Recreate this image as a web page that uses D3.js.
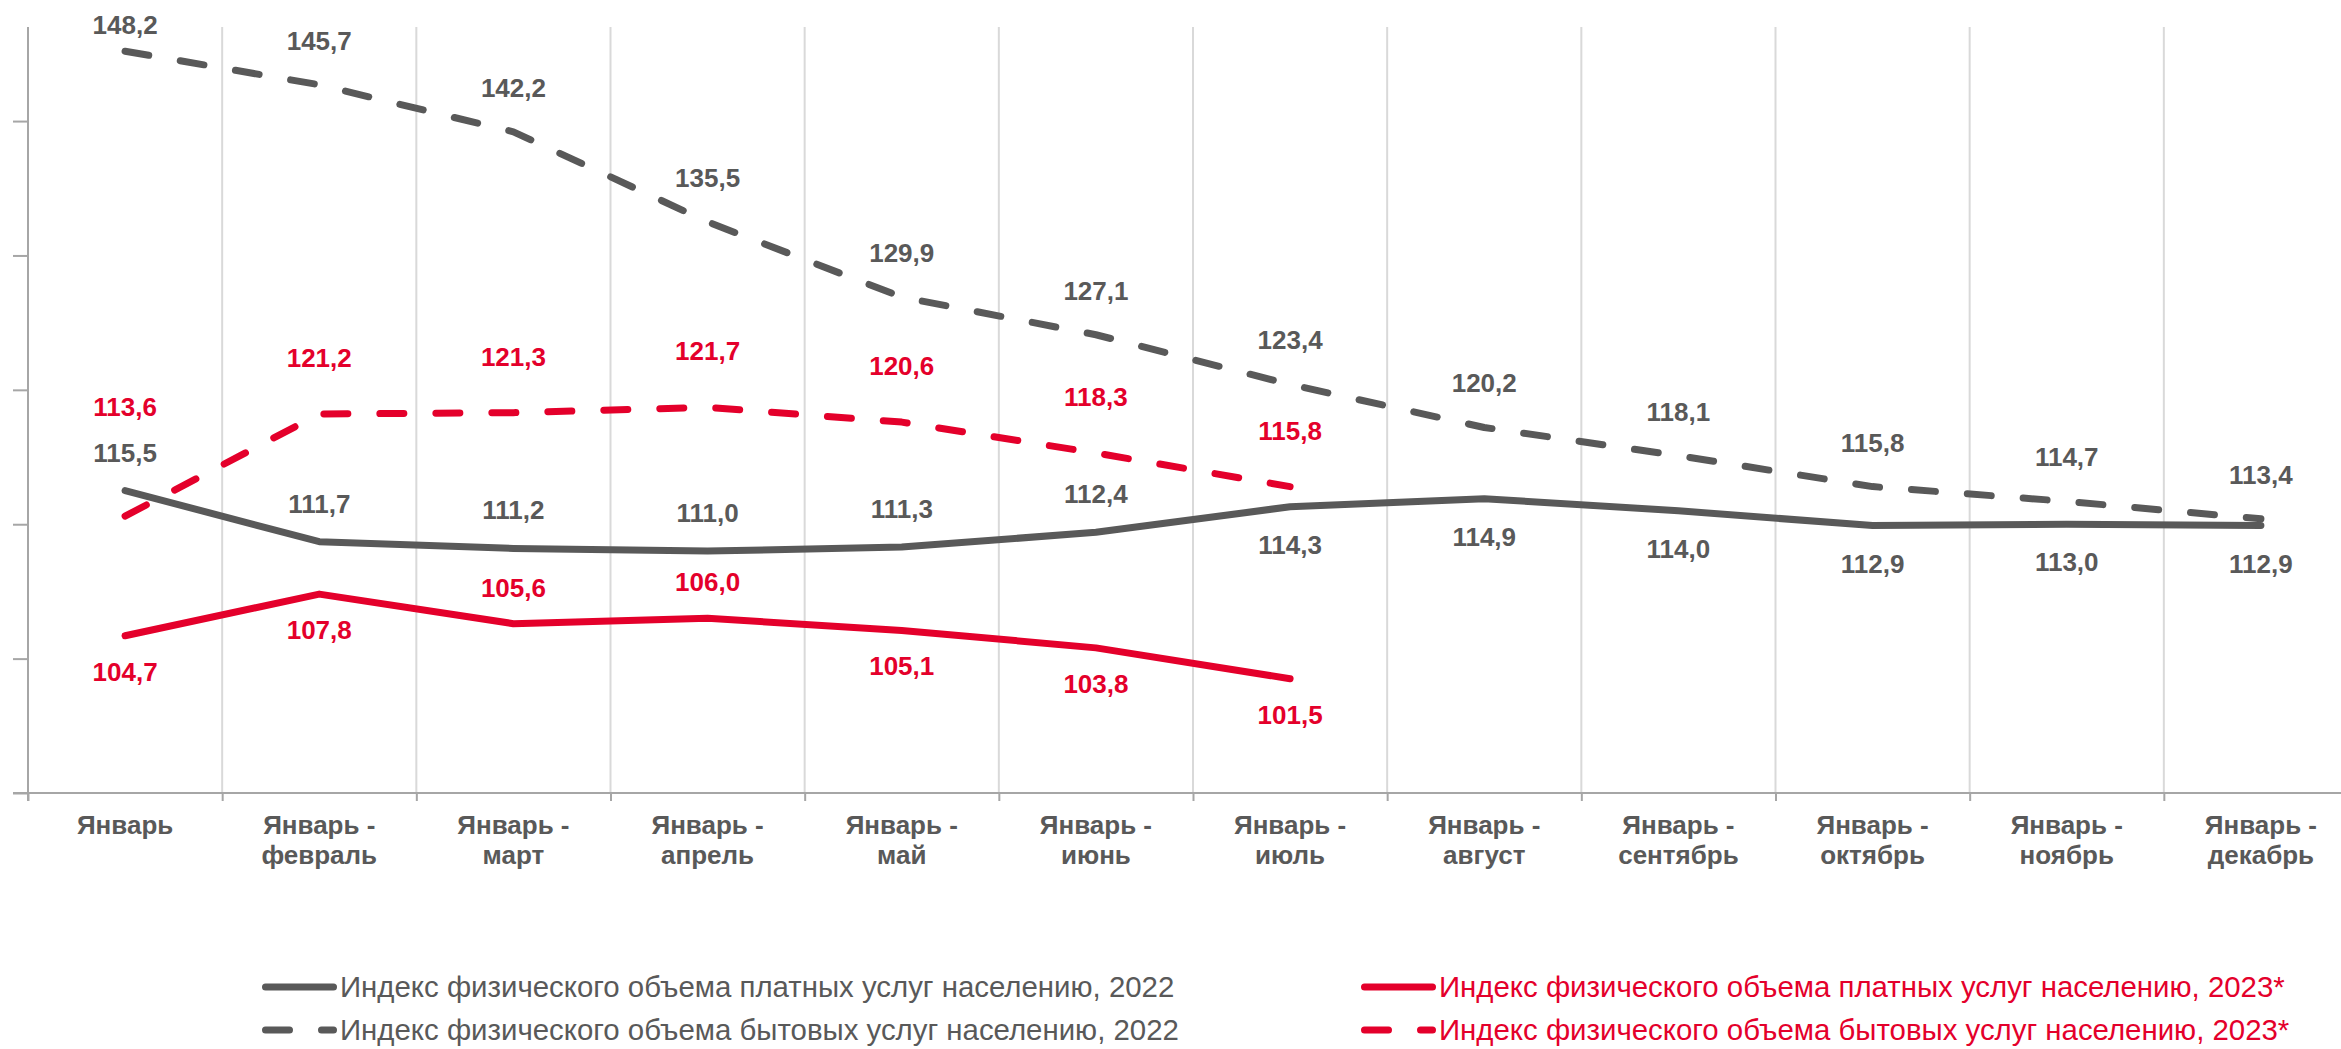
<!DOCTYPE html>
<html>
<head>
<meta charset="utf-8">
<script src="https://cdn.jsdelivr.net/npm/d3@7"></script>
<style>
  html, body { margin: 0; padding: 0; background: #fff; }
  svg { display: block; font-family: "Liberation Sans", Arial, sans-serif; }
</style>
</head>
<body>
<div id="chart"></div>
<script>
// categories (two-line labels)
const months = [
    ["Январь"],
    ["Январь -", "февраль"],
    ["Январь -", "март"],
    ["Январь -", "апрель"],
    ["Январь -", "май"],
    ["Январь -", "июнь"],
    ["Январь -", "июль"],
    ["Январь -", "август"],
    ["Январь -", "сентябрь"],
    ["Январь -", "октябрь"],
    ["Январь -", "ноябрь"],
    ["Январь -", "декабрь"],
];

// series values
const paid2022 = [115.5, 111.7, 111.2, 111.0, 111.3, 112.4, 114.3, 114.9, 114.0, 112.9, 113.0, 112.9];
const household2022 = [148.2, 145.7, 142.2, 135.5, 129.9, 127.1, 123.4, 120.2, 118.1, 115.8, 114.7, 113.4];
const paid2023 = [104.7, 107.8, 105.6, 106.0, 105.1, 103.8, 101.5];
const household2023 = [113.6, 121.2, 121.3, 121.7, 120.6, 118.3, 115.8];

const yTicks = [93, 103, 113, 123, 133, 143];

const GREY = "#595959";
const RED = "#e4002b";

const width = 2341;
const height = 1049;

const svg = d3
    .select("#chart")
    .append("svg")
    .attr("width", width)
    .attr("height", height);

const plot = { left: 28, right: 2358, top: 27, bottom: 793 };

const x = d3
    .scaleBand()
    .domain(d3.range(months.length))
    .range([plot.left, plot.right])
    .padding(0);

// boundaries between categories (for gridlines and ticks)
const xb = d3.scaleLinear().domain([0, months.length]).range([plot.left, plot.right]);

const y = d3.scaleLinear().domain([93, 150]).range([plot.bottom, plot.top]);

const cx = (i) => x(i) + x.bandwidth() / 2;

// vertical gridlines
svg.append("g")
    .attr("class", "grid")
    .selectAll("line")
    .data(d3.range(1, months.length))
    .enter()
    .append("line")
    .attr("x1", (d) => xb(d))
    .attr("x2", (d) => xb(d))
    .attr("y1", plot.top)
    .attr("y2", plot.bottom)
    .style("stroke", "#d9d9d9")
    .style("stroke-width", 2);

// y axis (no labels)
const yAxis = svg
    .append("g")
    .attr("transform", `translate(${plot.left},0)`)
    .call(d3.axisLeft(y).tickValues(yTicks).tickSize(15).tickFormat(""));
yAxis.select(".domain").attr("d", `M0,${plot.top}V${plot.bottom + 8}`);

// x axis with ticks on category boundaries
const xAxis = svg
    .append("g")
    .attr("transform", `translate(0,${plot.bottom})`)
    .call(d3.axisBottom(xb).tickValues(d3.range(0, months.length + 1)).tickSize(8).tickFormat(""));
xAxis.select(".domain").attr("d", `M${plot.left - 15},0H${plot.right}`);

svg.selectAll(".domain, .tick line")
    .style("stroke", "#a6a6a6")
    .style("stroke-width", 2);

// category labels
const catLabel = svg
    .append("g")
    .selectAll("text")
    .data(months)
    .enter()
    .append("text")
    .attr("x", (d, i) => cx(i))
    .attr("y", 834)
    .attr("text-anchor", "middle")
    .style("font-size", "26px")
    .style("font-weight", "bold")
    .style("fill", GREY);

catLabel
    .selectAll("tspan")
    .data((d) => d)
    .enter()
    .append("tspan")
    .attr("x", function () {
        return this.parentNode.getAttribute("x");
    })
    .attr("dy", (d, i) => (i === 0 ? 0 : 30))
    .text((d) => d);

const series = [
    { name: "household2022", values: household2022, color: GREY, dashed: true, side: () => -1, gap: 44 },
    { name: "paid2022", values: paid2022, color: GREY, dashed: false, side: (i) => (i < 6 ? -1 : 1), gap: 38 },
    { name: "household2023", values: household2023, color: RED, dashed: true, side: () => -1, gap: 56 },
    { name: "paid2023", values: paid2023, color: RED, dashed: false, side: (i) => (i === 2 || i === 3 ? -1 : 1), gap: 36 },
];

const line = d3
    .line()
    .x((d, i) => cx(i))
    .y((d) => y(d));

svg.append("g")
    .attr("class", "lines")
    .selectAll("path")
    .data(series)
    .enter()
    .append("path")
    .attr("d", (s) => line(s.values))
    .style("fill", "none")
    .style("stroke", (s) => s.color)
    .style("stroke-width", 7)
    .style("stroke-linecap", "round")
    .style("stroke-linejoin", "round")
    .style("stroke-dasharray", (s) => (s.dashed ? "24,32" : null));

// data labels
const fmt = (v) => v.toFixed(1).replace(".", ",");

series.forEach((s) => {
    svg.append("g")
        .selectAll("text")
        .data(s.values)
        .enter()
        .append("text")
        .attr("x", (d, i) => cx(i))
        .attr("y", (d, i) => {
            let gap = s.gap;
            // first 2023 household label pushed up to clear 115,5
            if (s.name === "household2023" && i === 0) gap = 109;
            const c = y(d) + s.side(i) * gap;
            return Math.max(c, 25) + 9;
        })
        .attr("text-anchor", "middle")
        .style("font-size", "26px")
        .style("font-weight", "bold")
        .style("fill", s.color)
        .text((d) => fmt(d));
});

// legend
const legendItems = [
    { label: "Индекс физического объема платных услуг населению, 2022", color: GREY, dashed: false, x: 262, y: 987 },
    { label: "Индекс физического объема бытовых услуг населению, 2022", color: GREY, dashed: true, x: 262, y: 1030 },
    { label: "Индекс физического объема платных услуг населению, 2023*", color: RED, dashed: false, x: 1361, y: 987 },
    { label: "Индекс физического объема бытовых услуг населению, 2023*", color: RED, dashed: true, x: 1361, y: 1030 },
];

const legend = svg
    .append("g")
    .attr("class", "legend")
    .selectAll("g")
    .data(legendItems)
    .enter()
    .append("g")
    .attr("transform", (d) => `translate(${d.x},${d.y})`);

legend
    .append("line")
    .attr("x1", 3.5)
    .attr("x2", 71.5)
    .style("stroke", (d) => d.color)
    .style("stroke-width", 7)
    .style("stroke-linecap", "round")
    .style("stroke-dasharray", (d) => (d.dashed ? "24,32" : null));

legend
    .append("text")
    .attr("x", 78)
    .attr("y", 10)
    .style("font-size", "29.4px")
    .style("fill", (d) => d.color)
    .text((d) => d.label);
</script>
</body>
</html>
